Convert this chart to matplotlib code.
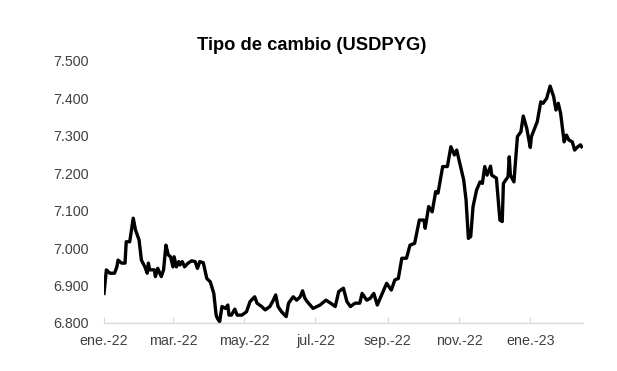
import matplotlib
matplotlib.use("Agg")
import matplotlib.pyplot as plt
import pandas as pd
from matplotlib.ticker import FuncFormatter

plt.rcParams['font.family'] = ['Liberation Sans', 'DejaVu Sans']

dates = [
    "2022-01-01", "2022-01-03", "2022-01-06", "2022-01-10", "2022-01-12", "2022-01-13",
    "2022-01-16", "2022-01-19", "2022-01-20", "2022-01-23", "2022-01-26", "2022-01-28",
    "2022-01-31", "2022-02-02", "2022-02-05", "2022-02-07", "2022-02-08", "2022-02-09",
    "2022-02-13", "2022-02-14", "2022-02-16", "2022-02-19", "2022-02-21", "2022-02-23",
    "2022-02-25", "2022-02-27", "2022-03-01", "2022-03-02", "2022-03-04", "2022-03-06",
    "2022-03-07", "2022-03-09", "2022-03-11", "2022-03-14", "2022-03-17", "2022-03-20",
    "2022-03-22", "2022-03-24", "2022-03-27", "2022-03-30", "2022-04-02", "2022-04-05",
    "2022-04-07", "2022-04-08", "2022-04-10", "2022-04-12", "2022-04-15", "2022-04-17",
    "2022-04-18", "2022-04-20", "2022-04-23", "2022-04-25", "2022-04-29", "2022-05-03",
    "2022-05-06", "2022-05-10", "2022-05-12", "2022-05-16", "2022-05-19", "2022-05-23",
    "2022-05-26", "2022-05-28", "2022-05-30", "2022-06-02", "2022-06-06", "2022-06-08",
    "2022-06-12", "2022-06-15", "2022-06-18", "2022-06-20", "2022-06-22", "2022-06-24",
    "2022-06-29", "2022-07-05", "2022-07-10", "2022-07-14", "2022-07-18", "2022-07-21",
    "2022-07-25", "2022-07-28", "2022-07-31", "2022-08-04", "2022-08-08", "2022-08-10",
    "2022-08-14", "2022-08-17", "2022-08-20", "2022-08-23", "2022-08-26", "2022-08-31",
    "2022-09-04", "2022-09-07", "2022-09-10", "2022-09-13", "2022-09-17", "2022-09-20",
    "2022-09-24", "2022-09-28", "2022-10-02", "2022-10-03", "2022-10-06", "2022-10-09",
    "2022-10-12", "2022-10-14", "2022-10-18", "2022-10-22", "2022-10-25", "2022-10-28",
    "2022-10-30", "2022-11-01", "2022-11-05", "2022-11-07", "2022-11-09", "2022-11-11",
    "2022-11-13", "2022-11-16", "2022-11-19", "2022-11-21", "2022-11-23", "2022-11-25",
    "2022-11-28", "2022-11-29", "2022-12-03", "2022-12-06", "2022-12-08", "2022-12-09",
    "2022-12-13", "2022-12-14", "2022-12-15", "2022-12-18", "2022-12-21", "2022-12-24",
    "2022-12-26", "2022-12-29", "2023-01-01", "2023-01-02", "2023-01-07", "2023-01-10",
    "2023-01-12", "2023-01-15", "2023-01-18", "2023-01-21", "2023-01-23", "2023-01-25",
    "2023-01-27", "2023-01-30", "2023-02-01", "2023-02-03", "2023-02-06", "2023-02-08",
    "2023-02-10", "2023-02-13", "2023-02-14",
]

usdpyg = [
    6879, 6942, 6933, 6933, 6950, 6968,
    6960, 6960, 7017, 7017, 7080, 7048,
    7022, 6968, 6950, 6933, 6960, 6942,
    6942, 6924, 6946, 6924, 6942, 7008,
    6982, 6977, 6950, 6977, 6950, 6964,
    6955, 6964, 6950, 6960, 6966, 6964,
    6946, 6964, 6961, 6919, 6910, 6879,
    6821, 6813, 6803, 6844, 6839, 6848,
    6821, 6821, 6837, 6821, 6821, 6830,
    6857, 6870, 6853, 6844, 6835, 6844,
    6861, 6875, 6844, 6830, 6817, 6853,
    6870, 6861, 6870, 6886, 6866, 6857,
    6839, 6848, 6861, 6853, 6844, 6884,
    6893, 6857, 6844, 6853, 6853, 6879,
    6861, 6866, 6879, 6848, 6870, 6906,
    6888, 6915, 6919, 6973, 6973, 7008,
    7013, 7075, 7075, 7053, 7111, 7097,
    7151, 7147, 7218, 7218, 7271, 7249,
    7262, 7235, 7182, 7129, 7026, 7031,
    7111, 7155, 7177, 7173, 7218, 7195,
    7219, 7195, 7187, 7075, 7071, 7173,
    7191, 7244, 7195, 7177, 7298, 7311,
    7353, 7320, 7269, 7298, 7338, 7391,
    7387, 7400, 7433, 7405, 7369, 7387,
    7360, 7284, 7302, 7289, 7284, 7262,
    7269, 7276, 7271,
]

tick_dates = ["2022-01-01", "2022-03-01", "2022-05-01", "2022-07-01",
              "2022-09-01", "2022-11-01", "2023-01-01"]
tick_labels = ["ene.-22", "mar.-22", "may.-22", "jul.-22", "sep.-22", "nov.-22", "ene.-23"]
y_ticks = [6800, 6900, 7000, 7100, 7200, 7300, 7400, 7500]
title = "Tipo de cambio (USDPYG)"

x = pd.to_datetime(dates)

fig = plt.figure(figsize=(6.17, 3.71), dpi=100)
ax = fig.add_axes([0.1686, 0.1294, 0.776, 0.7062])
ax.plot(x, usdpyg, color="black", lw=2.4, solid_joinstyle="round")

ax.set_xlim(pd.Timestamp("2022-01-01"), pd.Timestamp("2023-02-15"))
ax.set_ylim(6800, 7500)
ax.set_yticks(y_ticks)
ax.yaxis.set_major_formatter(FuncFormatter(lambda v, p: f"{int(round(v)):,}".replace(",", ".")))
ax.set_xticks(pd.to_datetime(tick_dates))
ax.set_xticklabels(tick_labels)

for s in ["top", "right", "left"]:
    ax.spines[s].set_visible(False)
ax.spines["bottom"].set_color("#d9d9d9")
ax.spines["bottom"].set_linewidth(1.0)
ax.tick_params(axis="y", length=0, pad=11, labelsize=10.3, labelcolor="#404040")
ax.tick_params(axis="x", length=4, direction="in", color="#d9d9d9", pad=8,
               labelsize=10.3, labelcolor="#404040")

fig.text(0.505, 0.878, title, ha="center", va="center", fontsize=13.2,
         fontweight="bold", color="black")

fig.savefig("out.png", dpi=100)
